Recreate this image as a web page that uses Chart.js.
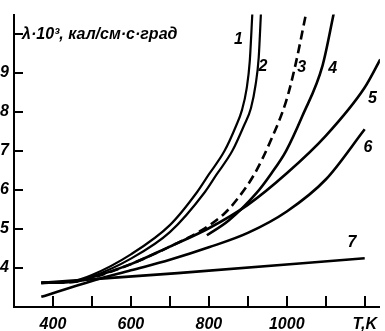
<!DOCTYPE html>
<html><head><meta charset="utf-8">
<script src="https://cdn.jsdelivr.net/npm/chart.js@4"></script>
<style>html,body{margin:0;padding:0;background:#fff;}canvas{display:block;}</style>
</head><body>
<canvas id="c" width="385" height="331"></canvas>
<script>
// ---- data (T in K, lambda*10^3 in cal/cm·s·deg) ----
const c1T = [370,450,500,600,700,770,800,840,870,885,897,905,912];
const c1L = [3.62,3.66,3.82,4.35,5.10,5.95,6.40,7.00,7.65,8.05,8.60,9.30,10.6];
const c2T = [370,450,500,600,700,790,820,860,890,908,920,928,934];
const c2L = [3.62,3.65,3.78,4.24,4.92,5.95,6.40,7.00,7.65,8.10,8.70,9.40,10.6];
const c3T = [370,450,500,600,700,780,840,870,917,958,998,1020,1051];
const c3L = [3.62,3.64,3.75,4.10,4.55,4.96,5.40,5.73,6.41,7.25,8.27,9.11,10.6];
const c4T = [795,851,922,960,998,1040,1092,1122];
const c4L = [4.84,5.22,5.92,6.42,7.00,7.90,9.20,10.6];
const c5T = [370,450,500,600,700,800,900,1000,1100,1200,1240];
const c5L = [3.62,3.64,3.76,4.10,4.55,5.02,5.62,6.43,7.39,8.63,9.35];
const c6T = [370,500,600,700,800,900,1000,1100,1200];
const c6L = [3.26,3.67,3.94,4.21,4.53,4.90,5.45,6.27,7.56];
const c7T = [370,720,1200];
const c7L = [3.62,3.87,4.25];

const xTickValues = [400,500,600,700,800,900,1000,1100,1200];
const yTickValues = [4,5,6,7,8,9,10];
const xLabelValues = [400,600,800,1000,1200];
const xLabelTexts = ['400','600','800','1000','T,K'];
const yLabelValues = [4,5,6,7,8,9];
const axisTitle = 'λ·10³, кал/см·с·град';
const curveNames = ['1','2','3','4','5','6','7'];
const curveNameT = [876,939,1038,1118,1220,1208,1167];
const curveNameL = [9.87,9.16,9.13,9.11,8.35,7.10,4.64];

const pts = (T,L) => T.map((t,i)=>({x:t,y:L[i]}));
const FONT = {family:'"Liberation Sans", Arial, sans-serif', size:16, style:'italic', weight:'bold'};
const fontStr = 'italic bold 16px "Liberation Sans", Arial, sans-serif';

function ds(T,L,opts){
  return Object.assign({data:pts(T,L), borderColor:'#000', borderWidth:2.6, pointRadius:0,
    fill:false, cubicInterpolationMode:'monotone', clip:0}, opts||{});
}

const decor = {
  id:'decor',
  afterDraw(chart){
    const ctx = chart.ctx, xs = chart.scales.x, ys = chart.scales.y;
    const area = chart.chartArea;
    ctx.save();
    ctx.strokeStyle='#000'; ctx.lineWidth=2;
    xTickValues.forEach(v=>{
      const px = Math.round(xs.getPixelForValue(v));
      ctx.beginPath(); ctx.moveTo(px, area.bottom); ctx.lineTo(px, area.bottom-11); ctx.stroke();
    });
    yTickValues.forEach(v=>{
      const py = Math.round(ys.getPixelForValue(v));
      ctx.beginPath(); ctx.moveTo(area.left, py); ctx.lineTo(area.left+9, py); ctx.stroke();
    });
    ctx.fillStyle='#000'; ctx.font=fontStr; ctx.textBaseline='middle'; ctx.textAlign='left';
    ctx.fillText(axisTitle, area.left+8, ys.getPixelForValue(10)+1);
    ctx.textAlign='center';
    curveNames.forEach((n,i)=>{
      ctx.fillText(n, xs.getPixelForValue(curveNameT[i]), ys.getPixelForValue(curveNameL[i]));
    });
    ctx.restore();
  }
};

new Chart(document.getElementById('c'), {
  type:'line',
  data:{datasets:[
    ds(c1T,c1L,{borderWidth:2.2}),
    ds(c2T,c2L,{borderWidth:2.2}),
    ds(c3T,c3L,{borderDash:[9,5]}),
    ds(c4T,c4L),
    ds(c5T,c5L),
    ds(c6T,c6L),
    ds(c7T,c7L)
  ]},
  options:{
    responsive:false, animation:false, devicePixelRatio:1,
    layout:{padding:{top:12,right:0,left:0,bottom:0}},
    plugins:{legend:{display:false}, tooltip:{enabled:false}},
    scales:{
      x:{type:'linear', min:300, max:1239,
        grid:{display:false, drawTicks:false}, border:{display:true, color:'#000', width:2},
        afterFit:s=>{s.height=24;},
        ticks:{stepSize:100, includeBounds:false, autoSkip:false, maxRotation:0, color:'#000', font:FONT, padding:8,
          callback:v=>{const i=xLabelValues.indexOf(v); return i>=0?xLabelTexts[i]:'';}}
      },
      y:{type:'linear', min:3, max:10.5,
        grid:{display:false, drawTicks:false}, border:{display:true, color:'#000', width:2},
        afterFit:s=>{s.width=14;},
        ticks:{stepSize:1, includeBounds:false, autoSkip:false, color:'#000', font:FONT, padding:5,
          callback:v=>yLabelValues.includes(v)?String(v):''}
      }
    }
  },
  plugins:[decor]
});
</script>
</body></html>
